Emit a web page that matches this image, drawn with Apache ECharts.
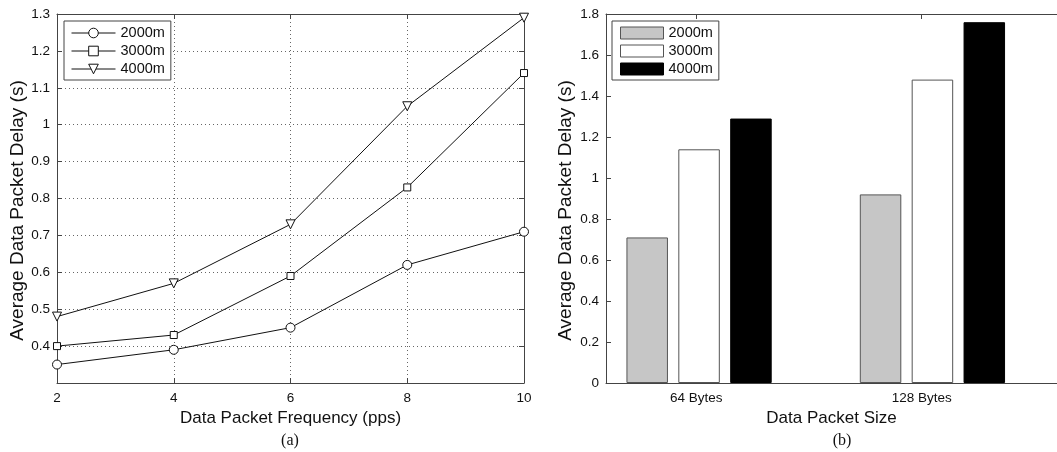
<!DOCTYPE html>
<html>
<head>
<meta charset="utf-8">
<script src="https://cdn.jsdelivr.net/npm/echarts@6/dist/echarts.min.js"></script>
<style>
  html, body { margin: 0; padding: 0; background: #fff; }
  #chart { width: 1057px; height: 452px; }
</style>
</head>
<body>
<div id="chart"></div>
<script>
// Delay vs. packet frequency (panel a)
const frequencies = [2, 4, 6, 8, 10];
const delay2000 = [0.35, 0.39, 0.45, 0.62, 0.71];
const delay3000 = [0.40, 0.43, 0.59, 0.83, 1.14];
const delay4000 = [0.48, 0.57, 0.73, 1.05, 1.29];
const rangeNames = ['2000m', '3000m', '4000m'];

// Delay vs. packet size (panel b)
const sizeCategories = ['64 Bytes', '128 Bytes'];
const sizeTickPositions = [1, 2];
const sizeDelay2000 = [0.71, 0.92];
const sizeDelay3000 = [1.14, 1.48];
const sizeDelay4000 = [1.29, 1.76];

const FONT = 'Liberation Sans, Arial, sans-serif';
const INK = '#111';
const FRAME = '#444';

const pairs = (xs, ys) => xs.map((x, i) => [x, ys[i]]);

const dotted = { show: true, lineStyle: { color: '#666', width: 1, type: [1, 3] } };
const frameLine = { show: true, lineStyle: { color: FRAME, width: 1 } };
const inTicks = { show: true, inside: true, length: 5, lineStyle: { color: FRAME } };
const tickText = { color: INK, fontFamily: FONT, fontSize: 13.5 };
const xTitleText = { color: INK, fontFamily: FONT, fontSize: 17 };
// rotated titles sit a little below the axis centre
const yTitleText = { color: INK, fontFamily: FONT, fontSize: 19, padding: [0, 24, 0, 0] };

const lineSeries = (name, ys, symbol, size, rotate) => ({
  name, type: 'line', xAxisIndex: 0, yAxisIndex: 0,
  data: pairs(frequencies, ys),
  symbol, symbolSize: size, symbolRotate: rotate || 0,
  lineStyle: { color: INK, width: 1 },
  itemStyle: { color: '#fff', borderColor: INK, borderWidth: 1 },
  emphasis: { disabled: true }, z: 5
});

const barSeries = (name, ys, fill, border) => ({
  name: 'size ' + name, type: 'bar', xAxisIndex: 4, yAxisIndex: 3,
  data: ys,
  barWidth: 41.5, barGap: '25%',
  itemStyle: { color: fill, borderColor: border, borderWidth: 1 },
  emphasis: { disabled: true }
});

const option = {
  backgroundColor: '#fff',
  animation: false,
  grid: [
    { left: 57, top: 14, width: 467, height: 369 },      // panel (a)
    { left: 606, top: 14, width: 467, height: 369 },     // panel (b) frame and labels
    { left: 582.4, top: 14, width: 466.7, height: 369 }  // panel (b) bar band layout
  ],
  xAxis: [
    {
      type: 'value', gridIndex: 0, position: 'bottom', min: 2, max: 10, interval: 2,
      axisLine: frameLine, axisTick: inTicks, splitLine: dotted,
      axisLabel: Object.assign({ margin: 8 }, tickText),
      name: 'Data Packet Frequency (pps)', nameLocation: 'middle', nameGap: 26,
      nameTextStyle: xTitleText
    },
    {
      type: 'value', gridIndex: 0, position: 'top', min: 2, max: 10, interval: 2,
      axisLine: frameLine, axisTick: inTicks, splitLine: { show: false },
      axisLabel: { show: false }
    },
    {
      type: 'value', gridIndex: 1, position: 'bottom', min: 0.6, max: 2.6,
      axisLine: frameLine, axisTick: { show: false },
      splitLine: { show: false },
      axisLabel: Object.assign({
        margin: 8, customValues: sizeTickPositions,
        formatter: v => sizeCategories[sizeTickPositions.indexOf(Math.round(v))] || ''
      }, tickText),
      name: 'Data Packet Size', nameLocation: 'middle', nameGap: 26,
      nameTextStyle: xTitleText
    },
    {
      type: 'value', gridIndex: 1, position: 'top', min: 0.6, max: 2.6,
      axisLine: frameLine,
      axisTick: Object.assign({ customValues: sizeTickPositions }, inTicks),
      splitLine: { show: false }, axisLabel: { show: false }
    },
    {
      type: 'category', gridIndex: 2, data: sizeCategories, show: false
    }
  ],
  yAxis: [
    {
      type: 'value', gridIndex: 0, position: 'left', min: 0.3, max: 1.3, interval: 0.1,
      axisLine: frameLine, axisTick: inTicks, splitLine: dotted,
      axisLabel: Object.assign({
        margin: 7,
        formatter: v => (v < 0.35 ? '' : String(+v.toFixed(1)))
      }, tickText),
      name: 'Average Data Packet Delay (s)', nameLocation: 'middle', nameGap: 30,
      nameTextStyle: yTitleText
    },
    {
      type: 'value', gridIndex: 0, position: 'right', min: 0.3, max: 1.3, interval: 0.1,
      axisLine: frameLine, axisTick: inTicks, splitLine: { show: false },
      axisLabel: { show: false }
    },
    {
      type: 'value', gridIndex: 1, position: 'left', min: 0, max: 1.8, interval: 0.2,
      axisLine: frameLine, axisTick: inTicks, splitLine: { show: false },
      axisLabel: Object.assign({
        margin: 7,
        formatter: v => String(+v.toFixed(1))
      }, tickText),
      name: 'Average Data Packet Delay (s)', nameLocation: 'middle', nameGap: 31,
      nameTextStyle: yTitleText
    },
    {
      type: 'value', gridIndex: 2, min: 0, max: 1.8, show: false
    }
  ],
  legend: [
    {
      data: rangeNames,
      orient: 'vertical', left: 64, top: 21,
      padding: [4, 6, 3, 7],
      itemWidth: 44, itemHeight: 12, itemGap: 2, itemTextGap: 4,
      itemStyle: { borderWidth: 1 },
      lineStyle: { width: 1 },
      borderColor: FRAME, borderWidth: 1, backgroundColor: '#fff',
      textStyle: { color: INK, fontFamily: FONT, fontSize: 14.5, lineHeight: 16 },
      selectedMode: false
    },
    {
      data: rangeNames.map(n => 'size ' + n),
      formatter: n => n.replace('size ', ''),
      orient: 'vertical', left: 612, top: 21,
      padding: [4, 6, 3, 8],
      icon: 'rect',
      itemWidth: 43, itemHeight: 12, itemGap: 2, itemTextGap: 3,
      itemStyle: { borderWidth: 1 },
      borderColor: FRAME, borderWidth: 1, backgroundColor: '#fff',
      textStyle: { color: INK, fontFamily: FONT, fontSize: 14.5, lineHeight: 16 },
      selectedMode: false
    }
  ],
  graphic: [
    {
      type: 'text', x: 290, y: 441,
      style: { text: '(a)', fill: INK, font: '16px "Liberation Serif", "Times New Roman", serif', align: 'center', verticalAlign: 'middle' }
    },
    {
      type: 'text', x: 842, y: 441,
      style: { text: '(b)', fill: INK, font: '16px "Liberation Serif", "Times New Roman", serif', align: 'center', verticalAlign: 'middle' }
    }
  ],
  series: [
    lineSeries(rangeNames[0], delay2000, 'circle', 9),
    lineSeries(rangeNames[1], delay3000, 'rect', 7),
    lineSeries(rangeNames[2], delay4000, 'triangle', 9, 180),
    barSeries(rangeNames[0], sizeDelay2000, '#c6c6c6', '#555'),
    barSeries(rangeNames[1], sizeDelay3000, '#ffffff', '#555'),
    barSeries(rangeNames[2], sizeDelay4000, '#000000', '#000')
  ]
};

const chart = echarts.init(document.getElementById('chart'), null, { renderer: 'canvas' });
chart.setOption(option);
</script>
</body>
</html>
